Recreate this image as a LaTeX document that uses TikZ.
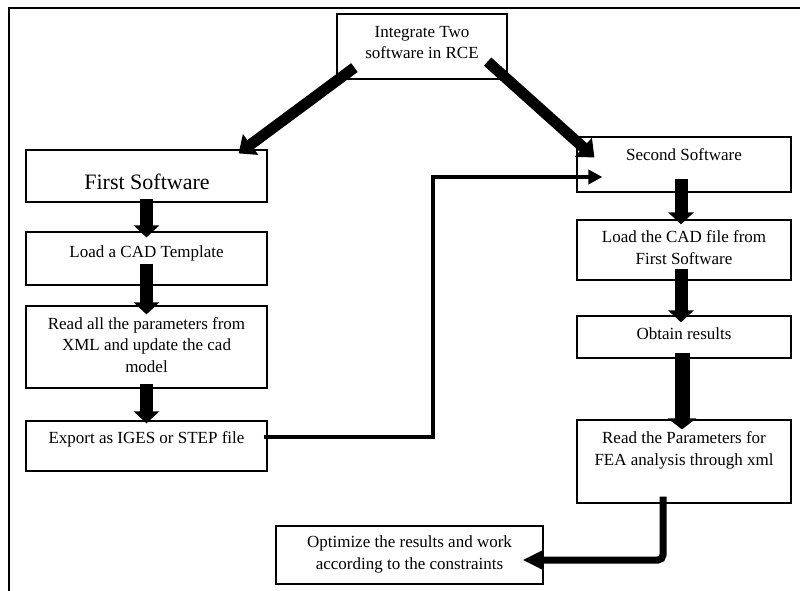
\documentclass[tikz,border=0pt]{standalone}
\usepackage{fontspec}
\setmainfont{Liberation Serif}
\usetikzlibrary{arrows.meta,calc}

\tikzset{
  box/.style={draw, line width=1.2pt, inner sep=0pt},
  % anchor=base sits on the last line of a multi-line label
  txt/.style={anchor=base, align=center, inner sep=0pt,
    font=\fontsize{17}{21.5}\selectfont},
  bigtxt/.style={anchor=base, inner sep=0pt,
    font=\fontsize{22}{26}\selectfont},
  diag/.style={line width=11pt, -{Triangle[width=25pt,length=15pt]}},
  down/.style={line width=13pt, -{Triangle[width=25pt,length=12pt]}},
  downwide/.style={line width=15pt, -{Triangle[width=28pt,length=11pt]}},
  link/.style={line width=4pt, -{Triangle[width=14pt,length=14pt]}},
  back/.style={line width=7pt, rounded corners=5pt, -{Triangle[width=18pt,length=20pt]}},
}

\begin{document}
\begin{tikzpicture}[x=1pt,y=-1pt]
\useasboundingbox (0,0) rectangle (800,591);

% page frame (left and top edges)
\draw[line width=2pt] (9,591) -- (9,8) -- (800,8);

% boxes
\node[box, minimum width=170pt, minimum height=65pt] (top) at (422,46.5) {};
\node[box, minimum width=241pt, minimum height=52pt] (first) at (146.5,176) {};
\node[box, minimum width=241pt, minimum height=53pt] (tmpl) at (146.5,258.5) {};
\node[box, minimum width=241pt, minimum height=82pt] (readx) at (146.5,347) {};
\node[box, minimum width=241pt, minimum height=50pt] (export) at (146.5,446) {};
\node[box, minimum width=214pt, minimum height=55pt] (second) at (684,164.5) {};
\node[box, minimum width=214pt, minimum height=60pt] (loadcad) at (684,250) {};
\node[box, minimum width=214pt, minimum height=42pt] (obtain) at (684,337) {};
\node[box, minimum width=214pt, minimum height=83pt] (fea) at (684,461.5) {};
\node[box, minimum width=267pt, minimum height=58pt] (optim) at (409.5,555) {};

% labels
\node[txt] (top-t) at (422,59) {Integrate Two\\software in RCE};
\node[bigtxt] (first-t) at (147,189) {First Software};
\node[txt] (tmpl-t) at (146.5,257) {Load a CAD Template};
\node[txt] (readx-t) at (146.5,372) {Read all the parameters from\\XML and update the cad\\model};
\node[txt] (export-t) at (146.5,443) {Export as IGES or STEP file};
\node[txt] (second-t) at (684,160) {Second Software};
\node[txt] (loadcad-t) at (684,264) {Load the CAD file from\\First Software};
\node[txt] (obtain-t) at (684,339) {Obtain results};
\node[txt] (fea-t) at (684,465) {Read the Parameters for\\FEA analysis through xml};
\node[txt] (optim-t) at (409.5,569) {Optimize the results and work\\according to the constraints};

% connectors
\draw[diag] ($(top.south west)+(18,-12)$) -- ($(first.north east)+(-29,4)$);
\draw[diag] ($(top.south east)+(-20,-18)$) -- ($(second.north west)+(18,21)$);

\draw[down] ($(first.south)+(0,-4)$) -- ($(tmpl.north)+(0,6)$);
\draw[down] ($(tmpl.south)+(0,-22)$) -- ($(readx.north)+(0,9)$);
\draw[down] ($(readx.south)+(0,-5)$) -- ($(export.north)+(0,3)$);

\draw[down] ($(second.south)+(-3,-14)$) -- ($(loadcad.north)+(-3,5)$);
\draw[down] ($(loadcad.south)+(-3,-12)$) -- ($(obtain.north)+(-3,7)$);
\draw[downwide] ($(obtain.south)+(-2,-6)$) -- ($(fea.north)+(-2,10)$);

\draw[link] ($(export.east)+(-4,-9)$) -| (433,177) -- ($(second.west)+(26,12.5)$);
\draw[back] ($(fea.south)+(-21,-7)$) |- ($(optim.east)+(-21,5)$);

\end{tikzpicture}
\end{document}
